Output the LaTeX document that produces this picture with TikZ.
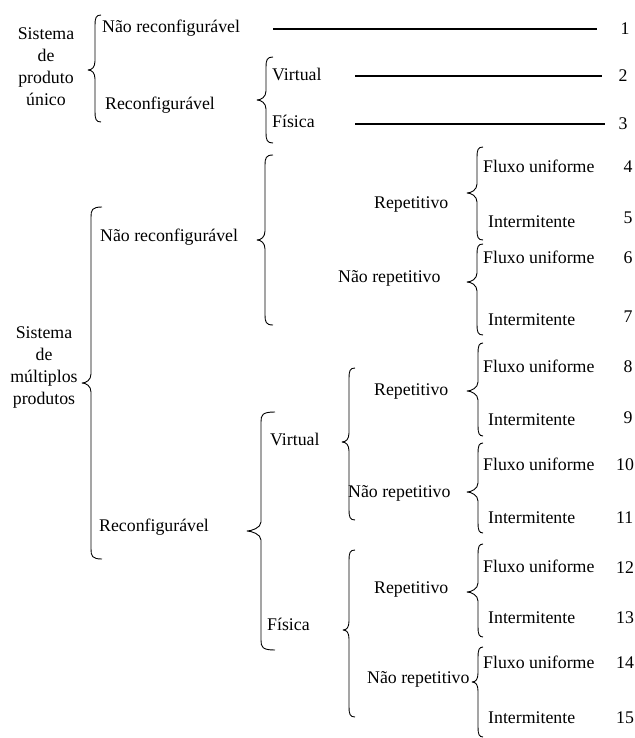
\documentclass[tikz,border=0pt]{standalone}
\usepackage{fontspec}
\setmainfont{Liberation Serif}
\begin{document}
% curly bracket opening to the right: #1 tip x, #2 spine x, #3 end x, #4 top y, #5 tip y, #6 bottom y
\newcommand\curlybr[6]{%
  \draw[brc] (#3,#4) .. controls (#2+1,#4) and (#2,#4+3) .. (#2,#4+10)
    -- (#2,#5-9) .. controls (#2,#5-3) and (#1+4,#5) .. (#1,#5)
    .. controls (#1+4,#5) and (#2,#5+3) .. (#2,#5+9)
    -- (#2,#6-10) .. controls (#2,#6-3) and (#2+1,#6) .. (#3,#6);}
\begin{tikzpicture}[x=1pt,y=-1pt,
  every node/.style={inner sep=0pt,font=\fontsize{17.8}{22}\selectfont},
  lbl/.style={anchor=base west},
  num/.style={anchor=base},
  wnum/.style={anchor=base west},
  grp/.style={anchor=north,align=center},
  brc/.style={line width=0.9pt,line join=round},
  lead/.style={line width=1.3pt}]
\useasboundingbox (0,0) rectangle (634,738);

% ---- single-product system ----
\node[grp] (sp) at (46,28) {Sistema\\de\\produto\\único};
\node[lbl] (spn) at (102,33) {Não reconfigurável};
\node[lbl] (spr) at (105,110) {Reconfigurável};
\node[lbl] (spv) at (272,81) {Virtual};
\node[lbl] (spf) at (272,128) {Física};
\node[num] (n1) at (625,35) {1};
\node[num] (n2) at (623,82) {2};
\node[num] (n3) at (623,130) {3};
\coordinate (l1a) at (273,29);  \coordinate (l1b) at (597,29);
\coordinate (l2a) at (355,76);  \coordinate (l2b) at (602,76);
\coordinate (l3a) at (355,124); \coordinate (l3b) at (605,124);
\draw[lead] (l1a) -- (l1b);
\draw[lead] (l2a) -- (l2b);
\draw[lead] (l3a) -- (l3b);
\curlybr{88}{95}{101}{15}{70}{122}
\curlybr{257}{266}{273}{57}{100}{143}

% ---- multi-product system ----
\node[grp] (mp) at (44,327) {Sistema\\de\\múltiplos\\produtos};
\curlybr{82}{91}{102}{207}{383}{559}

% non-reconfigurable branch
\node[lbl] (mnr) at (100,241) {Não reconfigurável};
\curlybr{257}{265}{273}{155}{240}{325}
\node[lbl] (mnr1) at (374,208) {Repetitivo};
\node[lbl] (mnr2) at (338,282) {Não repetitivo};
\curlybr{467}{477}{483}{147}{193}{240}
\curlybr{467}{477}{483}{244}{282}{335}
\node[lbl] (f4) at (483,172) {Fluxo uniforme};
\node[lbl] (i5) at (488,227) {Intermitente};
\node[lbl] (f6) at (483,263) {Fluxo uniforme};
\node[lbl] (i7) at (488,325) {Intermitente};
\node[num] (n4) at (628,172) {4};
\node[num] (n5) at (628,223) {5};
\node[num] (n6) at (628,263) {6};
\node[num] (n7) at (628,322) {7};

% reconfigurable branch
\node[lbl] (mr) at (99,531) {Reconfigurável};
\curlybr{247}{261}{275}{412}{531}{650}
\node[lbl] (mrv) at (270,445) {Virtual};
\node[lbl] (mrf) at (267,630) {Física};

% virtual
\curlybr{342}{349}{355}{368}{442}{520}
\node[lbl] (mv1) at (374,395) {Repetitivo};
\node[lbl] (mv2) at (348,497) {Não repetitivo};
\curlybr{467}{478}{483}{343}{391}{436}
\curlybr{467}{478}{483}{443}{492}{533}
\node[lbl] (f8) at (483,372) {Fluxo uniforme};
\node[lbl] (i9) at (488,425) {Intermitente};
\node[lbl] (f10) at (483,470) {Fluxo uniforme};
\node[lbl] (i11) at (488,523) {Intermitente};
\node[num] (n8) at (628,372) {8};
\node[num] (n9) at (628,423) {9};
\node[wnum] (n10) at (616,470) {10};
\node[wnum] (n11) at (616,523) {11};

% physical
\curlybr{343}{349}{355}{550}{630}{717}
\node[lbl] (mf1) at (374,593) {Repetitivo};
\node[lbl] (mf2) at (367,683) {Não repetitivo};
\curlybr{467}{478}{483}{544}{592}{637}
\curlybr{472}{478}{483}{647}{682}{737}
\node[lbl] (f12) at (483,572) {Fluxo uniforme};
\node[lbl] (i13) at (488,623) {Intermitente};
\node[lbl] (f14) at (483,668) {Fluxo uniforme};
\node[lbl] (i15) at (488,723) {Intermitente};
\node[wnum] (n12) at (616,573) {12};
\node[wnum] (n13) at (616,623) {13};
\node[wnum] (n14) at (616,668) {14};
\node[wnum] (n15) at (616,723) {15};
\end{tikzpicture}
\end{document}
